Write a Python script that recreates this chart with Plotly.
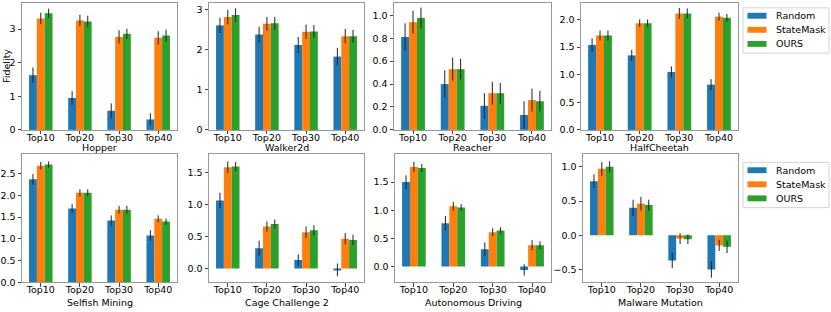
import plotly.graph_objects as go

categories = ["Top10", "Top20", "Top30", "Top40"]
methods = ["Random", "StateMask", "OURS"]
colors = ["#1f77b4", "#ff7f0e", "#2ca02c"]

# Hopper
hopper_random = [1.63, 0.95, 0.57, 0.31]
hopper_random_err = [0.23, 0.20, 0.22, 0.18]
hopper_statemask = [3.32, 3.26, 2.77, 2.74]
hopper_statemask_err = [0.17, 0.17, 0.20, 0.20]
hopper_ours = [3.47, 3.23, 2.86, 2.81]
hopper_ours_err = [0.14, 0.17, 0.15, 0.18]

# Walker2d
walker_random = [2.61, 2.38, 2.12, 1.83]
walker_random_err = [0.19, 0.20, 0.20, 0.22]
walker_statemask = [2.82, 2.65, 2.45, 2.34]
walker_statemask_err = [0.18, 0.17, 0.18, 0.18]
walker_ours = [2.87, 2.66, 2.46, 2.34]
walker_ours_err = [0.17, 0.16, 0.16, 0.16]

# Reacher
reacher_random = [0.81, 0.40, 0.21, 0.13]
reacher_random_err = [0.12, 0.12, 0.11, 0.12]
reacher_statemask = [0.94, 0.53, 0.32, 0.26]
reacher_statemask_err = [0.10, 0.10, 0.10, 0.10]
reacher_ours = [0.977, 0.53, 0.32, 0.25]
reacher_ours_err = [0.09, 0.09, 0.09, 0.09]

# HalfCheetah
cheetah_random = [1.54, 1.35, 1.05, 0.82]
cheetah_random_err = [0.12, 0.10, 0.10, 0.10]
cheetah_statemask = [1.71, 1.93, 2.11, 2.05]
cheetah_statemask_err = [0.09, 0.07, 0.10, 0.07]
cheetah_ours = [1.71, 1.93, 2.11, 2.03]
cheetah_ours_err = [0.09, 0.07, 0.09, 0.07]

# Selfish Mining
selfish_random = [2.37, 1.70, 1.42, 1.08]
selfish_random_err = [0.12, 0.10, 0.12, 0.12]
selfish_statemask = [2.68, 2.06, 1.67, 1.46]
selfish_statemask_err = [0.09, 0.08, 0.09, 0.08]
selfish_ours = [2.71, 2.06, 1.67, 1.40]
selfish_ours_err = [0.07, 0.08, 0.09, 0.07]

# Cage Challenge 2
cage_random = [1.07, 0.32, 0.135, -0.02]
cage_random_err = [0.12, 0.12, 0.09, 0.10]
cage_statemask = [1.59, 0.66, 0.57, 0.47]
cage_statemask_err = [0.09, 0.08, 0.09, 0.09]
cage_ours = [1.60, 0.70, 0.60, 0.45]
cage_ours_err = [0.07, 0.07, 0.08, 0.08]

# Autonomous Driving
driving_random = [1.50, 0.77, 0.31, -0.06]
driving_random_err = [0.12, 0.13, 0.12, 0.10]
driving_statemask = [1.77, 1.07, 0.61, 0.38]
driving_statemask_err = [0.09, 0.08, 0.07, 0.09]
driving_ours = [1.75, 1.05, 0.64, 0.38]
driving_ours_err = [0.07, 0.06, 0.06, 0.07]

# Malware Mutation
malware_random = [0.79, 0.40, -0.37, -0.50]
malware_random_err = [0.10, 0.12, 0.11, 0.12]
malware_statemask = [0.97, 0.46, -0.05, -0.15]
malware_statemask_err = [0.10, 0.10, 0.08, 0.08]
malware_ours = [1.00, 0.44, -0.06, -0.17]
malware_ours_err = [0.08, 0.08, 0.07, 0.09]

env_names = ["Hopper", "Walker2d", "Reacher", "HalfCheetah",
             "Selfish Mining", "Cage Challenge 2", "Autonomous Driving", "Malware Mutation"]
env_values = [
    [hopper_random, hopper_statemask, hopper_ours],
    [walker_random, walker_statemask, walker_ours],
    [reacher_random, reacher_statemask, reacher_ours],
    [cheetah_random, cheetah_statemask, cheetah_ours],
    [selfish_random, selfish_statemask, selfish_ours],
    [cage_random, cage_statemask, cage_ours],
    [driving_random, driving_statemask, driving_ours],
    [malware_random, malware_statemask, malware_ours],
]
env_errors = [
    [hopper_random_err, hopper_statemask_err, hopper_ours_err],
    [walker_random_err, walker_statemask_err, walker_ours_err],
    [reacher_random_err, reacher_statemask_err, reacher_ours_err],
    [cheetah_random_err, cheetah_statemask_err, cheetah_ours_err],
    [selfish_random_err, selfish_statemask_err, selfish_ours_err],
    [cage_random_err, cage_statemask_err, cage_ours_err],
    [driving_random_err, driving_statemask_err, driving_ours_err],
    [malware_random_err, malware_statemask_err, malware_ours_err],
]

# layout helpers (pixel geometry of the 831x312 canvas)
W, H = 831, 312
x_px = [(22, 177), (209, 364), (394, 551), (581, 738),
        (22, 177), (209, 364), (395, 551), (583, 738)]
y_px = [(3, 132)] * 4 + [(157, 287)] * 4
y_ranges = [[0, 3.78], [0, 3.17], [0, 1.108], [0, 2.30],
            [0, 2.94], [-0.216, 1.79], [-0.28, 1.99], [-0.69, 1.18]]
y_dticks = [1, 1, 0.2, 0.5, 0.5, 0.5, 0.5, 0.5]
y_formats = ["d", "d", ".1f", ".1f", ".1f", ".1f", ".1f", ".1f"]

FONT = "DejaVu Sans"
FS = 9.5


def px(xp, yp):
    return xp / W, 1 - yp / H


fig = go.Figure()
layout = dict(
    width=W, height=H,
    margin=dict(l=0, r=0, t=0, b=0),
    paper_bgcolor="white", plot_bgcolor="white",
    barmode="group", bargap=0.4, bargroupgap=0,
    font=dict(family=FONT, size=FS, color="black"),
    showlegend=False,
    annotations=[], shapes=[],
)

for i, name in enumerate(env_names):
    n = i + 1
    xa = "x" if n == 1 else f"x{n}"
    ya = "y" if n == 1 else f"y{n}"
    for m in range(3):
        fig.add_trace(go.Bar(
            x=categories, y=env_values[i][m], name=methods[m],
            marker=dict(color=colors[m], line=dict(width=0)),
            error_y=dict(type="data", array=env_errors[i][m], color="#222",
                         thickness=1, width=0),
            xaxis=xa, yaxis=ya,
        ))
    x0, x1 = x_px[i]
    yt, yb = y_px[i]
    axis_common = dict(showline=True, mirror=True, linecolor="#999", linewidth=1,
                       ticks="outside", ticklen=3.5, tickcolor="#444", tickwidth=1,
                       showgrid=False, zeroline=False,
                       tickfont=dict(family=FONT, size=FS, color="black"))
    layout["xaxis" if n == 1 else f"xaxis{n}"] = dict(
        domain=[x0 / W, x1 / W], anchor=ya, range=[-0.48, 3.48],
        type="category", ticklabelstandoff=-5, **axis_common)
    layout["yaxis" if n == 1 else f"yaxis{n}"] = dict(
        domain=[1 - yb / H, 1 - yt / H], anchor=xa, range=y_ranges[i],
        dtick=y_dticks[i], tick0=0, tickformat=y_formats[i], **axis_common)
    title_y = 150 if i < 4 else 307
    layout["annotations"].append(dict(
        text=name, x=(x0 + x1) / 2 / W, y=1 - title_y / H, xref="paper", yref="paper",
        xanchor="center", yanchor="middle", showarrow=False,
        font=dict(family=FONT, size=FS, color="black")))

layout["annotations"].append(dict(
    text="Fidelity", x=7 / W, y=1 - 67 / H, xref="paper", yref="paper",
    xanchor="center", yanchor="middle", showarrow=False, textangle=-90,
    font=dict(family=FONT, size=FS, color="black")))

# matplotlib-style legend boxes (one per row)
for top in (8, 165):
    bx0, by0 = px(743, top)
    bx1, by1 = px(829, top + 46)
    layout["shapes"].append(dict(type="rect", xref="paper", yref="paper",
                                 x0=bx0, x1=bx1, y0=by1, y1=by0,
                                 line=dict(color="#d5d5d5", width=1),
                                 fillcolor="white", layer="above"))
    for m in range(3):
        cy = top + 8 + m * 14.3
        hx0, hy0 = px(747.5, cy - 3)
        hx1, hy1 = px(766.5, cy + 3)
        layout["shapes"].append(dict(type="rect", xref="paper", yref="paper",
                                     x0=hx0, x1=hx1, y0=hy1, y1=hy0,
                                     line=dict(width=0), fillcolor=colors[m],
                                     layer="above"))
        tx, ty = px(774, cy)
        layout["annotations"].append(dict(
            text=methods[m], x=tx, y=ty, xref="paper", yref="paper",
            xanchor="left", yanchor="middle", showarrow=False,
            font=dict(family=FONT, size=FS, color="black")))

fig.update_layout(**layout)
fig.write_html("out.html", config={"displayModeBar": False},
               post_script="document.body.style.margin='0';"
               "document.body.style.padding='0';")
